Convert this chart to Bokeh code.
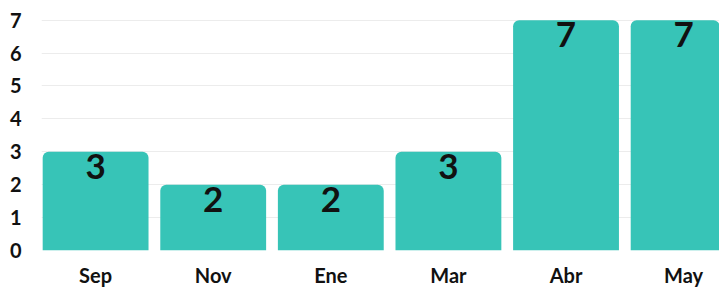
from bokeh.plotting import figure
from bokeh.models import ColumnDataSource, Range1d, FixedTicker
from bokeh.core.properties import value
from bokeh.embed import file_html
from bokeh.resources import INLINE

months = ["Sep", "Nov", "Ene", "Mar", "Abr", "May"]
counts = [3, 2, 2, 3, 7, 7]
y_ticks = [0, 1, 2, 3, 4, 5, 6, 7]

xs = [i + 0.5 for i in range(len(months))]
src = ColumnDataSource(dict(x=xs, top=counts, label=[str(c) for c in counts]))

FONT = "Lato"
p = figure(width=719, height=289, output_backend="svg", toolbar_location=None,
           x_range=Range1d(0.04, 5.805), y_range=Range1d(0, 7.02),
           min_border_left=41, min_border_right=0, min_border_top=19, min_border_bottom=0)
p.outline_line_color = None
p.background_fill_color = "white"
p.border_fill_color = "white"

p.vbar(x="x", top="top", width=0.9, bottom=0, source=src, fill_color="#37c4b7",
       line_color=None, border_radius=[6, 6, 0, 0])
p.text(x="x", y="top", text="label", source=src, text_align="center", text_baseline="top",
       text_font_size="35px", text_font_style="bold", text_color="#111111", y_offset=2,
       text_font=value(FONT))

p.xaxis.ticker = FixedTicker(ticks=xs)
p.xaxis.major_label_overrides = {x: m for x, m in zip(xs, months)}
p.yaxis.ticker = FixedTicker(ticks=y_ticks)
for ax in (p.xaxis, p.yaxis):
    ax.axis_line_color = None
    ax.major_tick_line_color = None
    ax.minor_tick_line_color = None
    ax.major_label_text_font = FONT
    ax.major_label_text_font_style = "bold"
    ax.major_label_text_font_size = "20px"
    ax.major_label_text_color = "#111111"
p.xaxis.major_label_standoff = 6
p.yaxis.major_label_standoff = 14
p.xgrid.grid_line_color = None
p.ygrid.grid_line_color = "#ececec"
p.ygrid.ticker = FixedTicker(ticks=y_ticks)

open("out.html", "w").write(file_html(p, INLINE))
